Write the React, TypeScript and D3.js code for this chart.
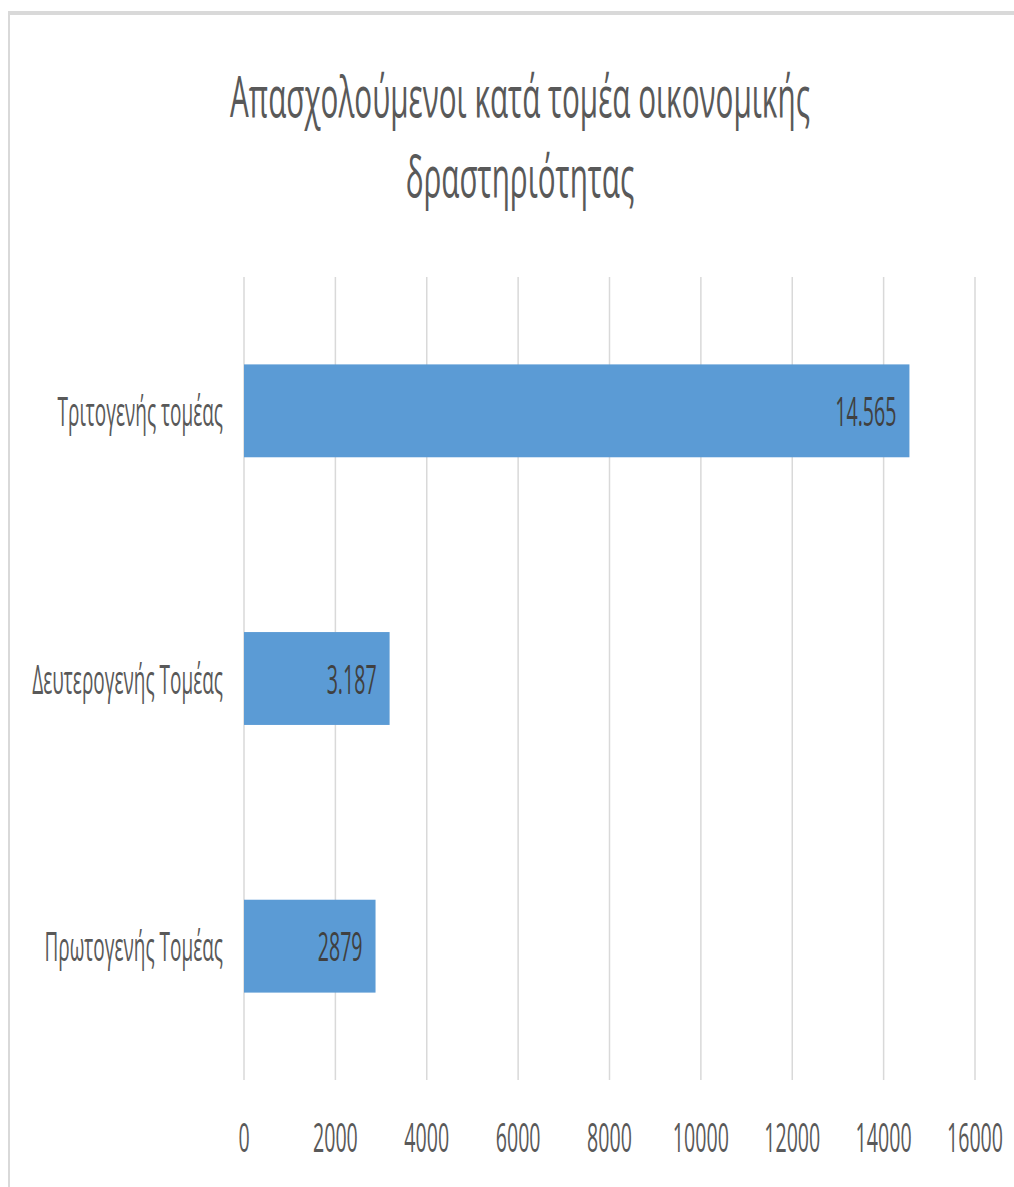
import React from "react";
import * as d3 from "d3";

const categories = ["Τριτογενής τομέας", "Δευτερογενής Τομέας", "Πρωτογενής Τομέας"];
const values = [14565, 3187, 2879];
const valueLabels = ["14.565", "3.187", "2879"];
const ticks = [0, 2000, 4000, 6000, 8000, 10000, 12000, 14000, 16000];
const titleLines = ["Απασχολούμενοι κατά τομέα οικονομικής", "δραστηριότητας"];

const W = 1014;
const H = 1187;
const FONT = "'Open Sans', 'Noto Sans', sans-serif";
const TEXT = "#595959";
const SX = 0.49;
const TITLE_SX = 0.53;

function SqText({ x, y, anchor, size, sx, children, fill = TEXT }: any) {
  return (
    <g transform={`translate(${x},${y}) scale(${sx},1)`}>
      <text x={0} y={0} textAnchor={anchor} fontSize={size} fontFamily={FONT} fill={fill}>
        {children}
      </text>
    </g>
  );
}

export default function App() {
  const x = d3.scaleLinear().domain([0, 16000]).range([244, 975]);
  const y = d3
    .scaleBand<string>()
    .domain(categories)
    .range([277, 1080])
    .paddingInner(0.653)
    .paddingOuter(0.3265);

  return (
    <svg
      width={W}
      height={H}
      style={{ position: "absolute", left: 0, top: 0, background: "#fff" }}
    >
      <rect x={0} y={0} width={W} height={H} fill="#fff" />
      {/* chart border */}
      <rect x={8} y={11} width={W - 8} height={4} fill="#d9d9d9" />
      <rect x={8} y={11} width={2} height={H - 11} fill="#d9d9d9" />

      {/* title */}
      <SqText x={520} y={117} anchor="middle" size={56} sx={TITLE_SX}>
        {titleLines[0]}
      </SqText>
      <SqText x={520} y={197} anchor="middle" size={56} sx={TITLE_SX}>
        {titleLines[1]}
      </SqText>

      {/* gridlines */}
      {ticks.map((t) => (
        <line
          key={t}
          x1={x(t)}
          x2={x(t)}
          y1={277}
          y2={1080}
          stroke="#d9d9d9"
          strokeWidth={1.5}
        />
      ))}

      {/* bars */}
      {categories.map((c, i) => (
        <rect
          key={c}
          x={x(0)}
          y={y(c)}
          width={x(values[i]) - x(0)}
          height={y.bandwidth()}
          fill="#5b9bd5"
        />
      ))}

      {/* value labels */}
      {categories.map((c, i) => (
        <SqText
          key={c}
          x={x(values[i]) - 13}
          y={(y(c) as number) + y.bandwidth() / 2 + 15}
          anchor="end"
          size={40}
          sx={SX}
          fill="#404040"
        >
          {valueLabels[i]}
        </SqText>
      ))}

      {/* category labels */}
      {categories.map((c) => (
        <SqText
          key={c}
          x={223}
          y={(y(c) as number) + y.bandwidth() / 2 + 15}
          anchor="end"
          size={40}
          sx={0.475}
        >
          {c}
        </SqText>
      ))}

      {/* tick labels */}
      {ticks.map((t) => (
        <SqText key={t} x={x(t)} y={1152} anchor="middle" size={40} sx={SX}>
          {String(t)}
        </SqText>
      ))}
    </svg>
  );
}
